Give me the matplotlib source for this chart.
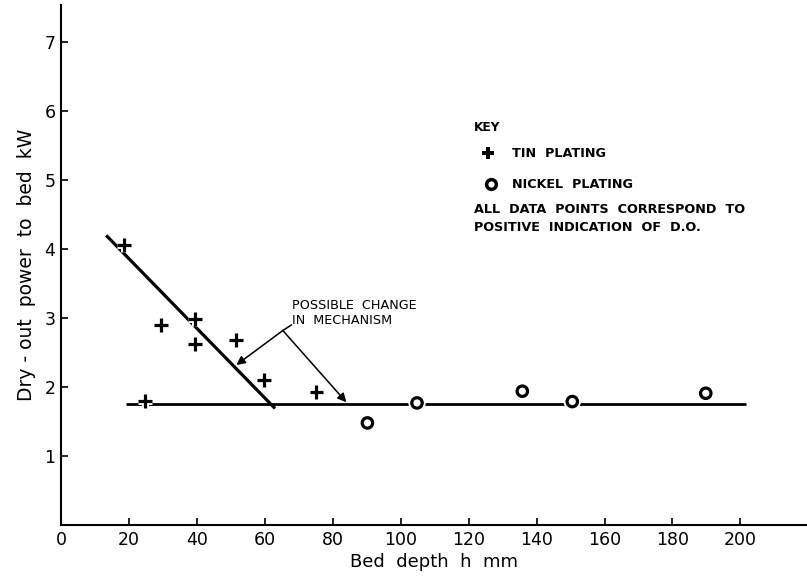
import numpy as np
import matplotlib.pyplot as plt
import matplotlib.patheffects as pe

# datos
tin_h = [18.6, 24.6, 29.5, 39.4, 39.5, 51.5, 59.7, 75.2]
tin_p = [4.06, 1.80, 2.90, 2.99, 2.62, 2.68, 2.10, 1.93]
nickel_h = [90.2, 104.8, 135.8, 150.5, 189.8]
nickel_p = [1.48, 1.77, 1.94, 1.79, 1.91]

# rectas trazadas a mano en el original
slope_h = [13.3, 63.0]
slope_p = [4.20, 1.69]
level_h = [19.0, 201.5]
level_p = [1.76, 1.76]

x_ticks = np.arange(0, 201, 20)
y_ticks = [1, 2, 3, 4, 5, 6, 7]

plt.rcParams['font.family'] = 'DejaVu Sans'
fig = plt.figure(figsize=(8.07, 5.79), dpi=100)
ax = fig.add_axes([0.0756, 0.0933, 0.9244, 0.898])

halo = [pe.Stroke(linewidth=5, foreground='white'), pe.Normal()]

ax.plot(slope_h, slope_p, color='black', lw=2.3, solid_capstyle='butt')
ax.plot(level_h, level_p, color='black', lw=2.0, solid_capstyle='butt')

ax.plot(tin_h, tin_p, ls='none', marker='+', ms=10, mew=2.3, color='black',
        path_effects=halo)
ax.plot(nickel_h, nickel_p, ls='none', marker='o', ms=7.5, mew=2.3,
        mec='black', mfc='white', path_effects=halo)

# anotación
ax.text(68.0, 3.27, 'POSSIBLE  CHANGE\nIN  MECHANISM', fontsize=9.2,
        va='top', ha='left', linespacing=1.15)
vertex = (65.3, 2.82)
ax.annotate('', xy=(51.6, 2.32), xytext=vertex,
            arrowprops=dict(arrowstyle='-|>', lw=1.1, color='black',
                            mutation_scale=13, shrinkA=0, shrinkB=0))
ax.annotate('', xy=(84.0, 1.78), xytext=vertex,
            arrowprops=dict(arrowstyle='-|>', lw=1.1, color='black',
                            mutation_scale=13, shrinkA=0, shrinkB=0))
ax.plot([vertex[0], 67.8], [vertex[1], 2.90], color='black', lw=1.1)

# leyenda (KEY)
ax.text(121.5, 5.76, 'KEY', fontsize=8.8, fontweight='bold', va='center')
ax.plot([125.7], [5.39], marker='P', ms=9, color='black', mew=0)
ax.text(132.7, 5.39, 'TIN  PLATING', fontsize=9.2, fontweight='semibold', va='center')
ax.plot([126.7], [4.94], marker='o', ms=7, mew=2.5, mec='black', mfc='white')
ax.text(132.7, 4.94, 'NICKEL  PLATING', fontsize=9.2, fontweight='semibold', va='center')
ax.text(121.5, 4.44, 'ALL  DATA  POINTS  CORRESPOND  TO\nPOSITIVE  INDICATION  OF  D.O.',
        fontsize=9.2, fontweight='semibold', va='center', linespacing=1.5)

ax.set_xlim(0, 219.6)
ax.set_ylim(0, 7.54)
ax.set_xticks(x_ticks)
ax.set_yticks(y_ticks)
ax.tick_params(direction='in', length=5, width=1.2, labelsize=12.5, pad=4)
for s in ['top', 'right']:
    ax.spines[s].set_visible(False)
for s in ['left', 'bottom']:
    ax.spines[s].set_linewidth(1.5)

ax.set_xlabel('Bed  depth  h  mm', fontsize=13, labelpad=3)
ax.set_ylabel('Dry - out  power  to  bed  kW', fontsize=13.5, labelpad=6)

fig.savefig('out.png', dpi=100)
